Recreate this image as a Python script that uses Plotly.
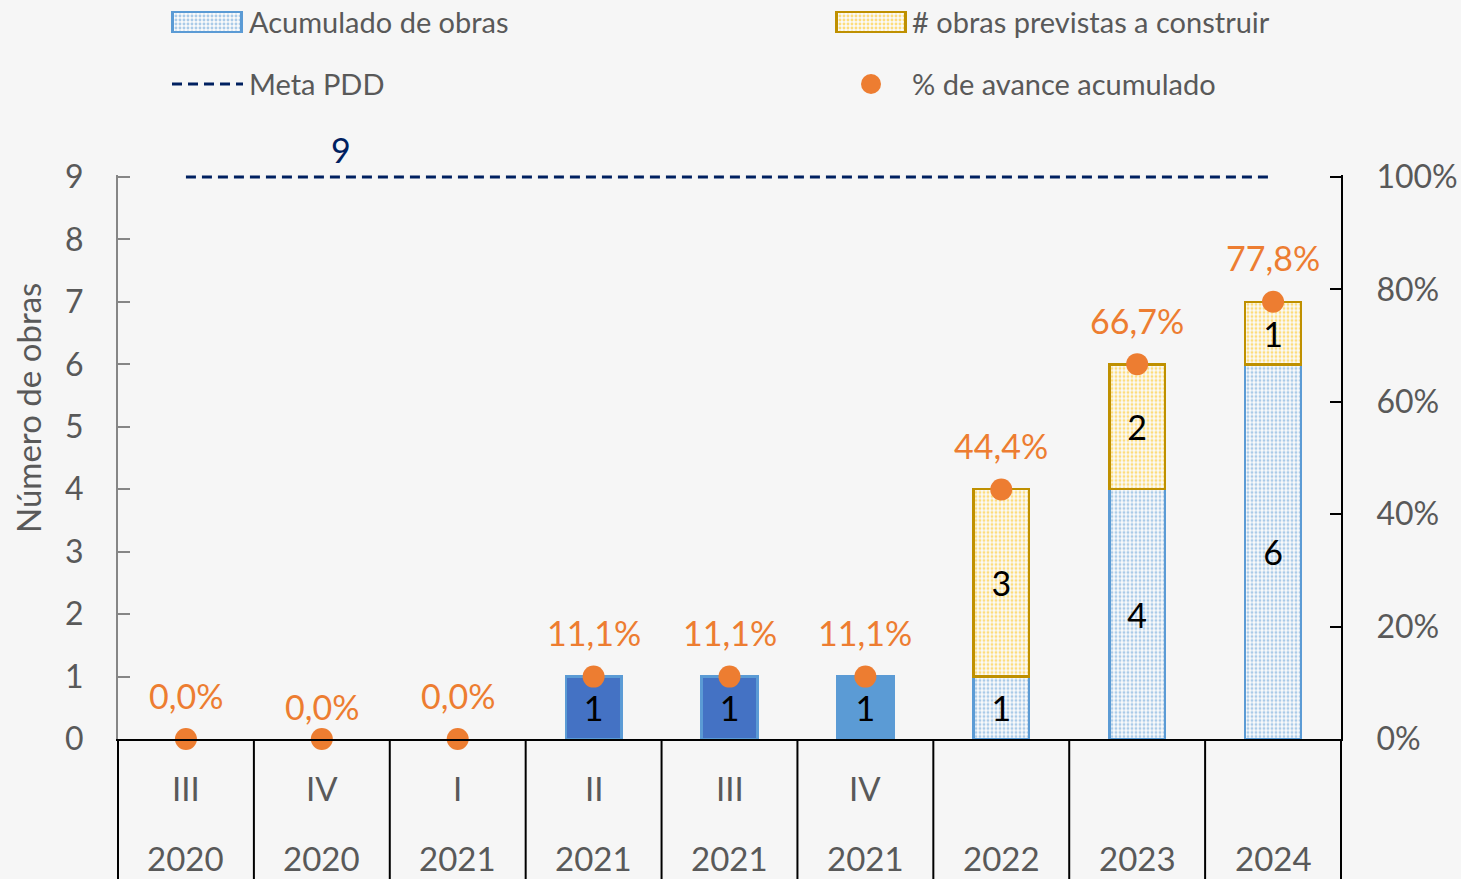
import plotly.graph_objects as go

# ---------------- data ----------------
quarters = ["III", "IV", "I", "II", "III", "IV", "", "", ""]
years = ["2020", "2020", "2021", "2021", "2021", "2021", "2022", "2023", "2024"]
acumulado = [0, 0, 0, 1, 1, 1, 1, 4, 6]
previstas = [0, 0, 0, 0, 0, 0, 3, 2, 1]
meta_pdd = 9
avance_pct = [0.0, 0.0, 0.0, 11.1, 11.1, 11.1, 44.4, 66.7, 77.8]
y_ticks = list(range(10))
y2_ticks = [0, 20, 40, 60, 80, 100]

legend_names = ["Acumulado de obras", "# obras previstas a construir",
                "Meta PDD", "% de avance acumulado"]

# ---------------- styles ----------------
BG = "#F6F6F6"
GREY = "#595959"
BLUE_D = "#4472C4"
BLUE_L = "#5B9BD5"
YEL = "#FFC000"
YEL_E = "#BF9000"
ORANGE = "#ED7D31"
NAVY = "#002060"
FONT = "Lato"
PAT_BG = "#FAFAFA"
PAT_SIZE = 4
PAT_SOL = 0.42
DASH = "10px,6px"

# per-bar style of the "acumulado" series: solid fill colour, or None -> dotted pattern
acum_solid = [BLUE_D, BLUE_D, BLUE_D, BLUE_D, BLUE_D, BLUE_L, None, None, None]
label_shift = [44, 33, 44, 44, 44, 44, 44, 44, 44]

categories = [f"{q} {y}".strip() for q, y in zip(quarters, years)]
cat_idx = list(range(len(categories)))

W, H = 1461, 879
ML, MR, MT, MB = 118, 120, 0, 140
PW, PH = W - ML - MR, H - MT - MB


def px_x(px):
    return (px - ML) / PW


def px_y(py):
    return (H - MB - py) / PH


def bar_text(vals):
    return [str(v) if v else "" for v in vals]


acum_solid_vals = [v if (v and c) else None for v, c in zip(acumulado, acum_solid)]
acum_pat_vals = [v if (v and not c) else None for v, c in zip(acumulado, acum_solid)]
TXT = dict(textposition="inside", insidetextanchor="middle", constraintext="none", textangle=0,
           textfont=dict(family=FONT, size=34, color="black"), hoverinfo="skip")

fig = go.Figure()

fig.add_trace(go.Bar(
    x=categories, y=acum_solid_vals, text=bar_text(acum_solid_vals),
    marker=dict(color=[c or BLUE_L for c in acum_solid], line=dict(color=BLUE_L, width=2.5)),
    name=legend_names[0], **TXT,
))
fig.add_trace(go.Bar(
    x=categories, y=acum_pat_vals, text=bar_text(acum_pat_vals),
    marker=dict(color=BLUE_L,
                pattern=dict(shape=".", fgcolor=BLUE_L, bgcolor=PAT_BG,
                             size=PAT_SIZE, solidity=PAT_SOL),
                line=dict(color=BLUE_L, width=2.5)),
    name=legend_names[0], **TXT,
))
fig.add_trace(go.Bar(
    x=categories, y=[v if v else None for v in previstas], text=bar_text(previstas),
    marker=dict(color=YEL,
                pattern=dict(shape=".", fgcolor=YEL, bgcolor=PAT_BG, size=PAT_SIZE, solidity=PAT_SOL),
                line=dict(color=YEL_E, width=2.5)),
    name=legend_names[1], **TXT,
))
fig.add_trace(go.Scatter(
    x=categories, y=[meta_pdd] * len(categories), mode="lines",
    line=dict(color=NAVY, width=3, dash=DASH),
    name=legend_names[2], hoverinfo="skip",
))
fig.add_trace(go.Scatter(
    x=categories, y=avance_pct, yaxis="y2", mode="markers",
    marker=dict(size=22, color=ORANGE), cliponaxis=False,
    name=legend_names[3], hoverinfo="skip",
))

# legend swatches drawn as tiny bars on auxiliary axes (to keep the dot pattern)
fig.add_trace(go.Bar(
    x=[1], y=[0], base=0, orientation="h", width=1, xaxis="x3", yaxis="y3",
    marker=dict(color=BLUE_L, pattern=dict(shape=".", fgcolor=BLUE_L, bgcolor=PAT_BG,
                                           size=PAT_SIZE, solidity=PAT_SOL),
                line=dict(color=BLUE_L, width=2.5)),
    hoverinfo="skip", showlegend=False,
))
fig.add_trace(go.Bar(
    x=[1], y=[0], base=0, orientation="h", width=1, xaxis="x4", yaxis="y4",
    marker=dict(color=YEL, pattern=dict(shape=".", fgcolor=YEL, bgcolor=PAT_BG,
                                        size=PAT_SIZE, solidity=PAT_SOL),
                line=dict(color=YEL_E, width=2.5)),
    hoverinfo="skip", showlegend=False,
))

ytop = 9.04
annotations = []
# category labels (x given as category index)
for i, q, y in zip(cat_idx, quarters, years):
    if q:
        annotations.append(dict(x=i, y=0, xref="x", yref="paper", yshift=-49, text=q,
                                xanchor="center", yanchor="middle",
                                showarrow=False, font=dict(family=FONT, size=33, color=GREY)))
    annotations.append(dict(x=i, y=0, xref="x", yref="paper", yshift=-119, text=y,
                            xanchor="center", yanchor="middle",
                            showarrow=False, font=dict(family=FONT, size=33, color=GREY)))
# percent labels
for i, v, s in zip(cat_idx, avance_pct, label_shift):
    annotations.append(dict(x=i, y=v, xref="x", yref="y2", yshift=s,
                            xanchor="center", yanchor="middle",
                            text=f"{v:.1f}".replace(".", ",") + "%", showarrow=False,
                            font=dict(family=FONT, size=34, color=ORANGE)))
# meta label
annotations.append(dict(x=1.14, y=meta_pdd, xref="x", yref="y", yshift=28, text=str(meta_pdd),
                        xanchor="center", yanchor="middle",
                        showarrow=False, font=dict(family=FONT, size=34, color=NAVY)))
# y-axis title
annotations.append(dict(x=px_x(28), y=px_y(408), xref="paper", yref="paper", text="Número de obras",
                        xanchor="center", yanchor="middle",
                        textangle=-90, showarrow=False, font=dict(family=FONT, size=33, color=GREY)))
# legend texts
for name, lx, ly in [(legend_names[0], 247, 21), (legend_names[1], 910, 21),
                     (legend_names[2], 247, 84), (legend_names[3], 910, 84)]:
    annotations.append(dict(x=px_x(lx), y=px_y(ly), xref="paper", yref="paper", text=name,
                            xanchor="left", yanchor="middle", showarrow=False,
                            font=dict(family=FONT, size=29, color=GREY)))

shapes = []
# category dividers below the axis
for i in range(len(categories) - 1):
    shapes.append(dict(type="line", xref="x", yref="paper", x0=i + 0.5, x1=i + 0.5,
                       y0=0, y1=-MB / PH, line=dict(color="black", width=2)))
for xd in (0, 1):
    shapes.append(dict(type="line", xref="x domain", yref="paper", x0=xd, x1=xd,
                       y0=0, y1=-MB / PH, line=dict(color="black", width=2)))
# legend: meta line and marker
shapes.append(dict(type="line", xref="paper", yref="paper", x0=px_x(172), x1=px_x(243),
                   y0=px_y(84), y1=px_y(84), line=dict(color=NAVY, width=3, dash=DASH)))
shapes.append(dict(type="circle", xref="paper", yref="paper", xsizemode="pixel", ysizemode="pixel",
                   xanchor=px_x(871), yanchor=px_y(84), x0=-10, x1=10, y0=-10, y1=10,
                   fillcolor=ORANGE, line=dict(width=0)))

fig.update_layout(
    width=W, height=H,
    margin=dict(l=ML, r=MR, t=MT, b=MB, autoexpand=False),
    paper_bgcolor=BG, plot_bgcolor=BG,
    barmode="stack", bargap=0.59, showlegend=False,
    font=dict(family=FONT, color=GREY, size=32),
    xaxis=dict(type="category", range=[-0.5, 8.5], showticklabels=False, ticks="",
               automargin=False,
               showline=True, linecolor="black", linewidth=2, showgrid=False, zeroline=False),
    yaxis=dict(range=[0, ytop], domain=[0, (H - MB - 177) / PH * ytop / 9],
               automargin=False,
               tickvals=y_ticks, ticks="inside", ticklen=12, tickwidth=2, tickcolor="#868686",
               showline=True, linecolor="#868686", linewidth=2, showgrid=False, zeroline=False,
               ticklabelstandoff=26, tickfont=dict(family=FONT, size=32, color=GREY)),
    yaxis2=dict(overlaying="y", side="right", anchor="x", range=[0, 100 * ytop / 9],
                automargin=False,
                tickvals=y2_ticks, ticktext=[f"{v}%" for v in y2_ticks],
                ticks="inside", ticklen=11, tickwidth=2,
                tickcolor="black", showline=True, linecolor="black", linewidth=2,
                showgrid=False, zeroline=False, ticklabelstandoff=27,
                tickfont=dict(family=FONT, size=32, color=GREY)),
    xaxis3=dict(domain=[px_x(170), px_x(244)], range=[-0.04, 1.04], anchor="y3",
                visible=False, automargin=False),
    yaxis3=dict(domain=[px_y(34), px_y(10)], range=[-0.6, 0.6], anchor="x3",
                visible=False, automargin=False),
    xaxis4=dict(domain=[px_x(834), px_x(908)], range=[-0.04, 1.04], anchor="y4",
                visible=False, automargin=False),
    yaxis4=dict(domain=[px_y(34), px_y(10)], range=[-0.6, 0.6], anchor="x4",
                visible=False, automargin=False),
    annotations=annotations, shapes=shapes,
)

fig.write_html("out.html", config={"displayModeBar": False, "staticPlot": True},
               post_script="document.body.style.margin='0';document.body.style.overflow='hidden';")
